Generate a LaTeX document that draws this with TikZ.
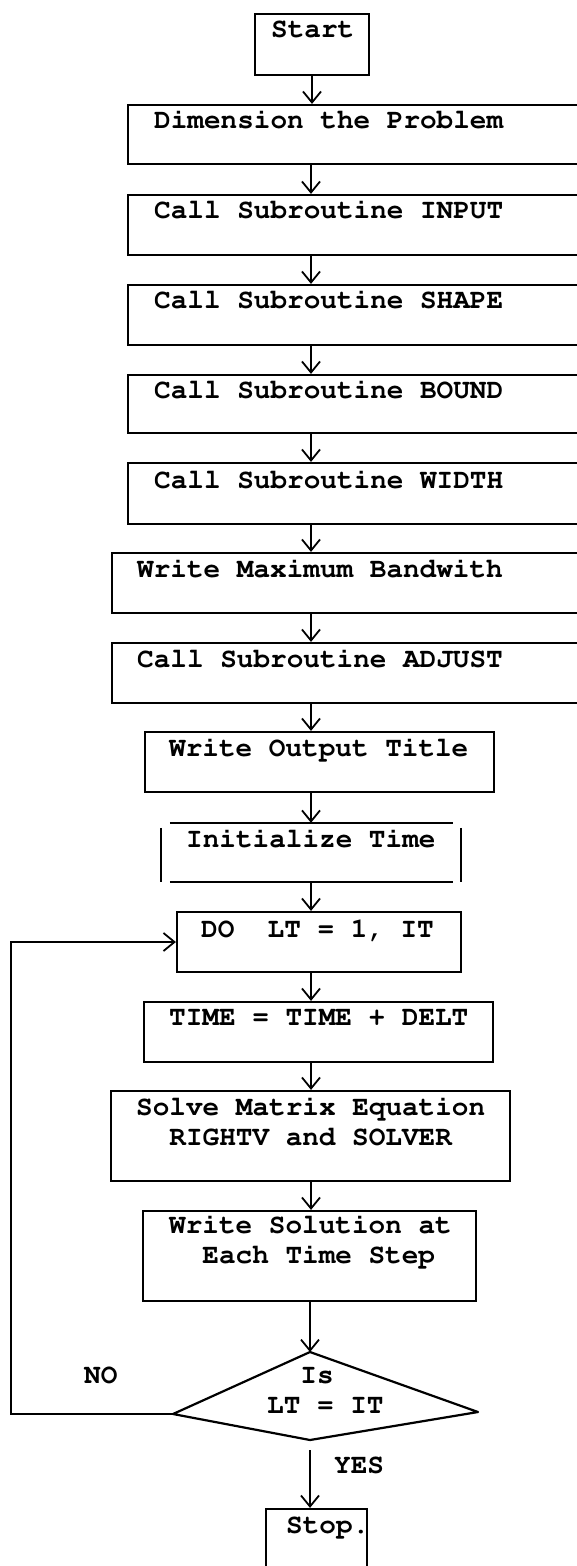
\documentclass[tikz,border=0pt]{standalone}
\usepackage[T1,TU]{fontenc}
\usetikzlibrary{arrows.meta}
\newcommand\monofnt{\fontencoding{T1}\fontfamily{pcr}\fontseries{b}\fontshape{n}\fontsize{27.7}{30}\selectfont}
\newcommand\mybox[5]{\node[boxst, minimum width={(#4-#2)*1pt}, minimum height={(#5-#3)*1pt}] (#1) at ({(#2+#4)/2},{(#3+#5)/2}) {};}
\newcommand\mytext[4]{\node[txt] (#1) at (#2,#3) {#4};}
\begin{document}
\begin{tikzpicture}[x=1pt,y=-1pt,
  boxst/.style={draw, line width=2.2pt, rectangle, inner sep=0pt},
  lnst/.style={line width=2.2pt},
  txt/.style={inner sep=0pt, anchor=base west, font=\monofnt, align=left},
  tipst/.style={-{Straight Barb[length=11pt,width=18pt,line width=1.8pt]}},
  arr/.style={line width=1.1pt, tipst},
  loopst/.style={line width=2pt, tipst}]
\useasboundingbox (0,0) rectangle (577,1566);
\fill[white] (0,0) rectangle (577,1566);
\clip (0,0) rectangle (577,1566);
\coordinate (sp) at (311,0);
% boxes
\mybox{start}{255}{14}{369}{75}
\mybox{dim}{128}{105}{600}{164}
\mybox{inp}{128}{195}{600}{255}
\mybox{shp}{128}{285}{600}{345}
\mybox{bnd}{128}{375}{600}{433}
\mybox{wid}{128}{463}{600}{524}
\mybox{band}{112}{553}{600}{613}
\mybox{adj}{112}{643}{600}{703}
\mybox{ttl}{145}{732}{494}{792}
\node[inner sep=0pt, minimum width=300pt, minimum height=59pt] (init) at (311,852.5) {};
\draw[lnst] ([xshift=9pt]init.north west) -- ([xshift=-8pt]init.north east);
\draw[lnst] ([xshift=9pt]init.south west) -- ([xshift=-8pt]init.south east);
\draw[lnst] ([yshift=-5pt]init.north west) -- (init.south west);
\draw[lnst] ([yshift=-5pt]init.north east) -- (init.south east);
\mybox{do}{177}{912}{461}{972}
\mybox{time}{144}{1002}{493}{1062}
\mybox{solve}{111}{1091}{510}{1181}
\mybox{wsol}{143}{1211}{476}{1301}
\mybox{stop}{266}{1509}{367}{1620}
% decision
\coordinate (dT) at (310,1352);
\coordinate (dR) at (478,1412);
\coordinate (dB) at (310,1440);
\coordinate (dL) at (173,1414);
\draw[lnst, line join=round] (dT) -- (dR) -- (dB) -- (dL) -- cycle;
% texts
\mytext{tstart}{271}{37}{Start}
\mytext{tdim}{154}{128}{Dimension the Problem}
\mytext{tinp}{154}{218}{Call Subroutine INPUT}
\mytext{tshp}{154}{308}{Call Subroutine SHAPE}
\mytext{tbnd}{154}{398}{Call Subroutine BOUND}
\mytext{twid}{154}{488}{Call Subroutine WIDTH}
\mytext{tband}{137}{577}{Write Maximum Bandwith}
\mytext{tadj}{137}{667}{Call Subroutine ADJUST}
\mytext{tttl}{169}{756}{Write Output Title}
\mytext{tinit}{186}{847}{Initialize Time}
\mytext{tdo}{201}{937}{DO~~LT = 1, IT}
\mytext{ttime}{169}{1025}{TIME = TIME + DELT}
\mytext{tsolve}{136}{1145}{Solve Matrix Equation\\\hphantom{MM}RIGHTV and SOLVER}
\mytext{twsol}{169}{1263}{Write Solution at\\\hphantom{MM}Each Time Step}
\mytext{tdec}{267}{1413}{\hphantom{MM}Is\\LT = IT}
\mytext{tno}{84}{1383}{NO}
\mytext{tyes}{334}{1473}{YES}
\mytext{tstop}{286}{1533}{Stop.}
% connectors
\draw[arr] (start.south) -- (start.south |- dim.north);
\draw[arr] (dim.south -| sp) -- (inp.north -| sp);
\draw[arr] (inp.south -| sp) -- (shp.north -| sp);
\draw[arr] (shp.south -| sp) -- (bnd.north -| sp);
\draw[arr] (bnd.south -| sp) -- (wid.north -| sp);
\draw[arr] (wid.south -| sp) -- (band.north -| sp);
\draw[arr] (band.south -| sp) -- (adj.north -| sp);
\draw[arr] (adj.south -| sp) -- (ttl.north -| sp);
\draw[arr] (ttl.south -| sp) -- (init.north -| sp);
\draw[arr] (init.south -| sp) -- (do.north -| sp);
\draw[arr] (do.south -| sp) -- (time.north -| sp);
\draw[arr] (time.south -| sp) -- (solve.north -| sp);
\draw[arr] (solve.south -| sp) -- (wsol.north -| sp);
\draw[arr] (wsol.south -| dT) -- (dT);
\draw[arr] ([yshift=-10pt]dB) -- (stop.north -| dB);
\coordinate (lp) at (11,942);
\draw[loopst] (dL) -| (lp) |- (do.west);
\end{tikzpicture}
\end{document}
